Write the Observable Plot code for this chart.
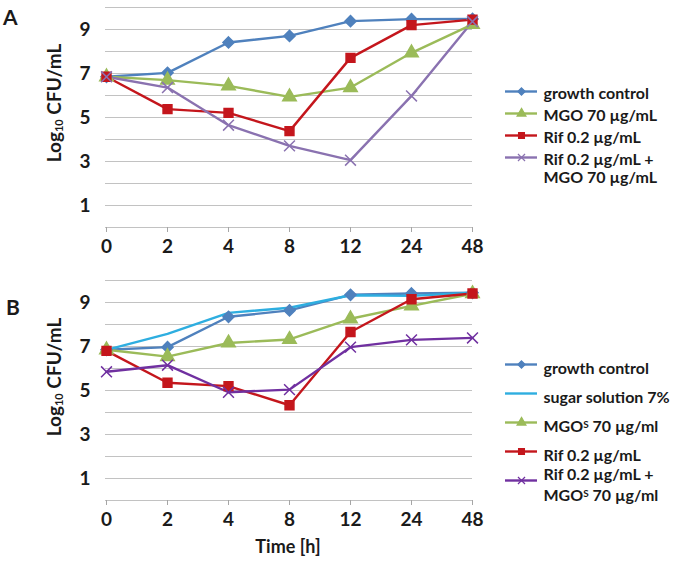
<!DOCTYPE html>
<html><head><meta charset="utf-8">
<script src="https://cdn.jsdelivr.net/npm/d3@7"></script>
<script src="https://cdn.jsdelivr.net/npm/@observablehq/plot@0.6"></script>
<style>
body{margin:0;background:#fff;}
#wrap{position:relative;width:679px;height:561px;font-family:Lato,"Open Sans",sans-serif;color:#1a1a1a;overflow:hidden;background:#fff}
.abs{position:absolute}
.ylab{font-weight:700;font-size:19px;white-space:nowrap;transform:translate(-50%,-50%) rotate(-90deg)}
.ylab sub{font-size:11px;vertical-align:-2px}
.panel{font-weight:700;font-size:21px;line-height:1}
.xlab{font-weight:700;font-size:18px;white-space:nowrap;transform:translate(-50%,-50%)}
</style></head><body><div id="wrap"></div>
<script>
// ---- data ----
const times = ["0","2","4","8","12","24","48"];
const yTickLabels = [1,3,5,7,9];

const seriesA = ["growth control","MGO","Rif","Rif+MGO"];
const legendA = ["growth control","MGO 70 µg/mL","Rif 0.2 µg/mL","Rif 0.2 µg/mL +\nMGO 70 µg/mL"];
const colorsA = ["#4f81bd","#9bbb59","#c4161c","#8a72b0"];
const symbolsA = ["diamond2","triangle","square","times"];
const A_growth = [6.85, 7.03, 8.41, 8.71, 9.38, 9.47, 9.48];
const A_mgo    = [6.85, 6.70, 6.44, 5.94, 6.36, 7.94, 9.23];
const A_rif    = [6.85, 5.38, 5.21, 4.38, 7.71, 9.20, 9.45];
const A_rifMgo = [6.85, 6.36, 4.65, 3.71, 3.06, 5.98, 9.36];

const seriesB = ["growth control","sugar","MGOS","Rif","Rif+MGOS"];
const legendB = ["growth control","sugar solution 7%","MGO^S 70 µg/ml","Rif 0.2 µg/mL","Rif 0.2 µg/mL +\nMGO^S 70 µg/ml"];
const colorsB = ["#4f81bd","#2eaee0","#9bbb59","#c4161c","#7030a0"];
const symbolsB = ["diamond2",null,"triangle","square","times"];
const B_growth = [6.85, 6.97, 8.35, 8.64, 9.35, 9.41, 9.44];
const B_sugar  = [6.85, 7.57, 8.53, 8.76, 9.33, 9.30, 9.44];
const B_mgo    = [6.85, 6.54, 7.16, 7.32, 8.26, 8.85, 9.40];
const B_rif    = [6.80, 5.35, 5.20, 4.33, 7.66, 9.15, 9.41];
const B_rifMgo = [5.85, 6.15, 4.92, 5.04, 6.97, 7.30, 7.39];

// ---- helpers ----
const wrap = document.getElementById("wrap");
function place(el, left, top){ el.style.position="absolute"; el.style.left=left+"px"; el.style.top=top+"px"; wrap.appendChild(el); return el; }
function html(cls, content, left, top){ const d=document.createElement("div"); d.className="abs "+cls; d.innerHTML=content; d.style.left=left+"px"; d.style.top=top+"px"; wrap.appendChild(d); return d; }

function panel(series, values, colors, symbols){
  const data = series.flatMap((s,i)=>values[i].map((v,j)=>({series:s, time:times[j], value:v})));
  const markerSeries = series.filter((s,i)=>symbols[i]);
  const markerSymbols = symbols.filter(s=>s);
  return Plot.plot({
    width:490, height:265, marginLeft:105, marginRight:18, marginTop:7, marginBottom:38,
    style:{fontFamily:"Lato, sans-serif", fontWeight:700, color:"#1a1a1a", background:"transparent", overflow:"visible"},
    x:{type:"point", domain:times, padding:0, label:null},
    y:{domain:[0,10], label:null},
    color:{domain:series, range:colors},
    symbol:{domain:markerSeries, range:markerSymbols},
    marks:[
      Plot.gridY({interval:1, stroke:"#c2c2c2", strokeOpacity:1, strokeWidth:1}),
      Plot.axisY({ticks:yTickLabels, tickSize:0, tickPadding:15, fontSize:19, fontWeight:700, label:null}),
      Plot.axisX({tickSize:5, tickPadding:7, stroke:"#a6a6a6", fill:"#1a1a1a", fontSize:19, fontWeight:700, label:null}),
      Plot.line(data, {x:"time", y:"value", z:"series", stroke:"series", strokeWidth:2.4}),
      Plot.dot(data.filter(d=>markerSeries.includes(d.series)), {x:"time", y:"value", symbol:"series", fill:"series", stroke:"series", strokeWidth:1.5, r:5})
    ]
  });
}

function legend(keys, labels, colors, symbols, o){
  const items = keys.map((k,i)=>({key:k, label:labels[i]}));
  const markerKeys = keys.filter((k,i)=>symbols[i]);
  const markerSymbols = symbols.filter(s=>s);
  const svg = Plot.plot({
    width:184, height:o.height, marginLeft:10, marginRight:142, marginTop:o.mt, marginBottom:o.mb,
    style:{fontFamily:"Lato, sans-serif", fontWeight:700, color:"#1a1a1a", background:"transparent", overflow:"visible"},
    x:{domain:[0,1], axis:null},
    y:{type:"point", domain:keys, padding:0, axis:null},
    color:{domain:keys, range:colors},
    symbol:{domain:markerKeys, range:markerSymbols},
    marks:[
      Plot.ruleY(items, {y:"key", x1:0, x2:1, stroke:"key", strokeWidth:2.4}),
      Plot.dot(items.filter(d=>markerKeys.includes(d.key)), {x:()=>0.5, y:"key", symbol:"key", fill:"key", stroke:"key", strokeWidth:1.2, r:3.3}),
      Plot.text(items, {x:()=>1, y:"key", text:"label", textAnchor:"start", dx:6, dy:o.dy, lineAnchor:o.anchor, lineHeight:o.lh, fontSize:16, fontWeight:700, fill:"#1a1a1a"})
    ]
  });
  // superscript S
  svg.querySelectorAll("text, tspan").forEach(el=>{
    if (el.children.length) return;
    const t = el.textContent;
    if (!t.includes("^S")) return;
    const [a,b] = t.split("^S");
    el.textContent = "";
    el.append(a);
    const s = document.createElementNS("http://www.w3.org/2000/svg","tspan");
    s.setAttribute("baseline-shift","40%"); s.setAttribute("font-size","62%"); s.textContent="S";
    el.append(s);
    const r = document.createElementNS("http://www.w3.org/2000/svg","tspan");
    r.textContent=b; el.append(r);
  });
  return svg;
}

// Panel A
place(panel(seriesA, [A_growth, A_mgo, A_rif, A_rifMgo], colorsA, symbolsA), 0, 0);
place(legend(seriesA, legendA, colorsA, symbolsA, {height:120, mt:21, mb:33, anchor:"top", dy:-6, lh:1.15}), 495, 70);
// Panel B
place(panel(seriesB, [B_growth, B_sugar, B_mgo, B_rif, B_rifMgo], colorsB, symbolsB), 0, 273);
place(legend(seriesB, legendB, colorsB, symbolsB, {height:175, mt:23, mb:35, anchor:"middle", dy:3, lh:1.3}), 495, 340);

// Texts
html("panel","A",3,6);
html("panel","B",6,296);
html("ylab","Log<sub>10</sub> CFU/mL",53,103);
html("ylab","Log<sub>10</sub> CFU/mL",53,377);
html("xlab","Time [h]",288,546);
</script></body></html>
